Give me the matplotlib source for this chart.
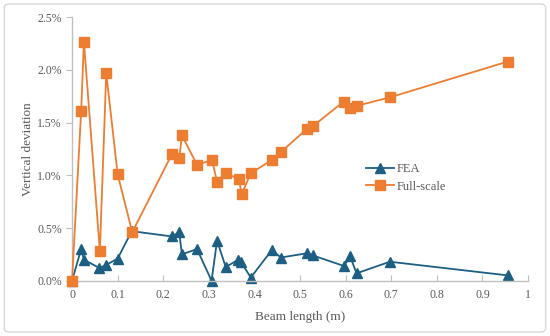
import matplotlib
matplotlib.use('Agg')
import matplotlib.pyplot as plt
from matplotlib.patches import FancyBboxPatch
from matplotlib.ticker import FuncFormatter

# beam length (m) and vertical deviation (%)
fea_x = [0, 0.02, 0.026, 0.06, 0.075, 0.1, 0.131, 0.219, 0.235, 0.241, 0.274, 0.306,
         0.318, 0.337, 0.365, 0.37, 0.392, 0.438, 0.458, 0.515, 0.528, 0.596, 0.61,
         0.624, 0.697, 0.956]
fea_y = [0.0, 0.30, 0.20, 0.12, 0.15, 0.21, 0.47, 0.42, 0.46, 0.25, 0.30, 0.0,
         0.38, 0.13, 0.20, 0.18, 0.03, 0.29, 0.22, 0.26, 0.24, 0.14, 0.23,
         0.07, 0.18, 0.05]

full_x = [0, 0.02, 0.026, 0.061, 0.075, 0.1, 0.132, 0.219, 0.235, 0.241, 0.274, 0.307,
          0.318, 0.337, 0.366, 0.372, 0.392, 0.438, 0.458, 0.515, 0.529, 0.596, 0.61,
          0.625, 0.697, 0.956]
full_y = [0.0, 1.61, 2.27, 0.28, 1.97, 1.01, 0.46, 1.20, 1.16, 1.38, 1.10, 1.145,
          0.94, 1.02, 0.965, 0.82, 1.02, 1.145, 1.22, 1.44, 1.47, 1.70, 1.64,
          1.66, 1.74, 2.08]

blue = '#1d5f83'
orange = '#ed7d31'
grey = '#595959'
plt.rcParams['font.family'] = ['Liberation Serif', 'DejaVu Serif']

fig = plt.figure(figsize=(5.5, 3.36), dpi=100)
frame = FancyBboxPatch((0.008, 0.012), 0.984, 0.976, boxstyle='round,pad=0,rounding_size=0.01',
                       transform=fig.transFigure, facecolor='none',
                       edgecolor='#d9d9d9', linewidth=1, zorder=-1)
fig.patches.append(frame)
ax = fig.add_axes([0.131, 0.1646, 0.829, 0.784])
ax.patch.set_alpha(0)

ax.plot(fea_x, fea_y, color=blue, lw=1.3, marker='^', ms=6.5, label='FEA', zorder=2, clip_on=False)
ax.plot(full_x, full_y, color=orange, lw=1.3, marker='s', ms=7.5, label='Full-scale', zorder=3, clip_on=False)

ax.set_xlim(0, 1)
ax.set_ylim(0, 2.5)
ax.set_xticks([0, 0.1, 0.2, 0.3, 0.4, 0.5, 0.6, 0.7, 0.8, 0.9, 1])
ax.set_xticklabels(['0', '0.1', '0.2', '0.3', '0.4', '0.5', '0.6', '0.7', '0.8', '0.9', '1'])
ax.set_yticks([0, 0.5, 1.0, 1.5, 2.0, 2.5])
ax.yaxis.set_major_formatter(FuncFormatter(lambda v, p: f'{v:.1f}%'))

for s in ['top', 'right']:
    ax.spines[s].set_visible(False)
for s in ['left', 'bottom']:
    ax.spines[s].set_color('#bfbfbf')
    ax.spines[s].set_linewidth(1)
ax.tick_params(axis='x', direction='in', length=4, color='#bfbfbf', labelsize=8.5, labelcolor=grey, pad=6)
ax.tick_params(axis='y', direction='out', length=4, color='#bfbfbf', labelsize=8.5, labelcolor=grey)

ax.set_xlabel('Beam length (m)', fontsize=9.5, color=grey, labelpad=7)
ax.set_ylabel('Vertical deviation', fontsize=9.5, color=grey, labelpad=2)

ax.legend(loc='upper left', bbox_to_anchor=(0.632, 0.47), frameon=False, fontsize=9,
          labelcolor=grey, handlelength=2.2, handletextpad=0.2, borderpad=0, labelspacing=0.45)

fig.savefig('out.png', dpi=100)
